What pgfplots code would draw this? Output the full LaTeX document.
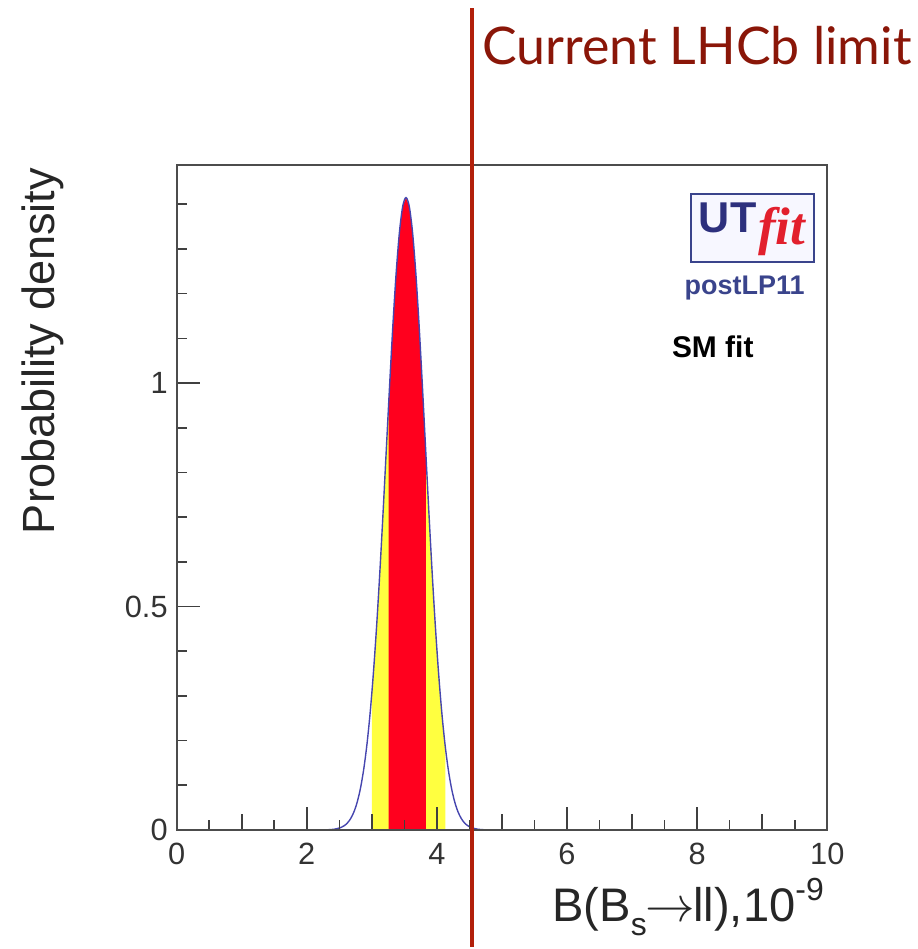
\documentclass[border=0pt]{standalone}
\usepackage{fontspec}
\setmainfont{Liberation Sans}
\newfontfamily\latofont{Lato}
\newfontfamily\serifit{Liberation Serif}
\usepackage{pgfplots}
\pgfplotsset{compat=1.18}
\definecolor{bandyellow}{RGB}{255,255,64}
\definecolor{bandred}{RGB}{255,0,30}
\definecolor{curveblue}{RGB}{70,70,175}
\definecolor{limitred}{RGB}{178,32,10}
\definecolor{limittext}{RGB}{138,22,8}
\definecolor{utblue}{RGB}{45,48,125}
\definecolor{utred}{RGB}{226,32,45}
\definecolor{lpblue}{RGB}{58,68,140}
\begin{document}
\begin{tikzpicture}
\begin{axis}[
  width=326pt, height=333pt, scale only axis,
  xmin=0, xmax=10, ymin=0, ymax=1.487,
  set layers=standard, axis on top, clip=false,
  tick align=inside, tick pos=left,
  xtick={0,2,4,6,8,10}, ytick={0,0.5,1},
  minor xtick={0.5,1.5,2.5,3.5,4.5,5.5,6.5,7.5,8.5,9.5},
  minor ytick={0.1,0.2,0.3,0.4,0.6,0.7,0.8,0.9,1.1,1.2,1.3,1.4},
  extra x ticks={1,3,5,7,9}, extra x tick labels={},
  extra x tick style={major tick length=8pt},
  major tick length=11.5pt, minor tick length=5pt,
  tick style={black!75, line width=0.8pt},
  axis line style={black!70, line width=1pt},
  /pgf/number format/assume math mode=true,
  ticklabel style={font=\fontsize{15.4}{18}\selectfont, text=black!80},
  xticklabel style={yshift=-3pt},
  yticklabel style={xshift=-1pt},
]
% yellow band (95%)
\addplot[draw=none, fill=bandyellow] coordinates {
(3.000,0) (3.000,0.306) (3.025,0.3529) (3.075,0.4595) (3.125,0.5817) (3.175,0.7164)
(3.225,0.8582) (3.275,0.9998) (3.325,1.1330) (3.375,1.2487) (3.425,1.3385) (3.475,1.3955)
(3.525,1.4150) (3.575,1.3955) (3.625,1.3385) (3.675,1.2487) (3.725,1.1330) (3.775,0.9998)
(3.825,0.8582) (3.875,0.7164) (3.925,0.5817) (3.975,0.4595) (4.025,0.3529) (4.075,0.2635)
(4.125,0.1915) (4.130,0.185) (4.130,0)} \closedcycle;
% red band (68%)
\addplot[draw=none, fill=bandred] coordinates {
(3.260,0) (3.260,0.958) (3.275,0.9998) (3.325,1.1330) (3.375,1.2487) (3.425,1.3385) (3.475,1.3955)
(3.525,1.4150) (3.575,1.3955) (3.625,1.3385) (3.675,1.2487) (3.725,1.1330) (3.775,0.9998)
(3.825,0.8582) (3.830,0.844) (3.830,0)} \closedcycle;
% p.d.f. curve
\addplot[curveblue, line width=0.7pt, smooth] coordinates {
(2.200,0) (2.325,0.0005) (2.425,0.0017) (2.525,0.0055) (2.575,0.0094) (2.625,0.0157)
(2.675,0.0256) (2.725,0.0404) (2.775,0.0622) (2.825,0.0930) (2.875,0.1353) (2.925,0.1915)
(2.975,0.2635) (3.025,0.3529) (3.075,0.4595) (3.125,0.5817) (3.175,0.7164) (3.225,0.8582)
(3.275,0.9998) (3.325,1.1330) (3.375,1.2487) (3.425,1.3385) (3.475,1.3955) (3.525,1.4150)
(3.575,1.3955) (3.625,1.3385) (3.675,1.2487) (3.725,1.1330) (3.775,0.9998) (3.825,0.8582)
(3.875,0.7164) (3.925,0.5817) (3.975,0.4595) (4.025,0.3529) (4.075,0.2635) (4.125,0.1915)
(4.175,0.1353) (4.225,0.0930) (4.275,0.0622) (4.325,0.0404) (4.375,0.0256) (4.425,0.0157)
(4.475,0.0094) (4.525,0.0055) (4.625,0.0017) (4.725,0.0005) (4.850,0)};
% current LHCb limit
\addplot[limitred, line width=2.4pt, on layer=axis foreground] coordinates {(4.54,-0.261) (4.54,1.839)};
\node[anchor=base west, text=limittext, inner sep=0pt, font=\latofont\fontsize{26}{30}\selectfont]
  at (axis cs:4.69,1.712) {Current LHCb limit};
% axis titles
\node[rotate=90, anchor=base east, inner sep=0pt, text=black!85, font=\fontsize{22.6}{26}\selectfont]
  at (axis cs:-1.871,1.482) {Probability density};
\node[anchor=base east, inner sep=0pt, text=black!85, font=\fontsize{23.6}{28}\selectfont]
  at (axis cs:9.954,-0.205) {B(B\raisebox{-0.55ex}{\fontsize{16}{18}\selectfont s}\kern-0.5pt{\fontsize{26}{28}\selectfont$\rightarrow$}\kern-1pt ll),10\raisebox{0.85ex}{\fontsize{16}{18}\selectfont -9}};
% UTfit logo
\draw[lpblue, line width=1pt, fill=blue!3] (axis cs:7.90,1.270) rectangle (axis cs:9.80,1.422);
\node[anchor=base west, inner sep=0pt, text=utblue, font=\bfseries\fontsize{21.6}{26}\selectfont]
  at (axis cs:8.021,1.337) {UT};
\node[anchor=base west, inner sep=0pt, text=utred, font=\serifit\bfseries\itshape\fontsize{26.5}{30}\selectfont]
  at (axis cs:8.93,1.310) {fit};
\node[anchor=center, inner sep=0pt, text=lpblue, font=\bfseries\fontsize{13.5}{16}\selectfont]
  at (axis cs:8.73,1.212) {postLP11};
\node[anchor=center, inner sep=0pt, text=black, font=\bfseries\fontsize{15}{18}\selectfont]
  at (axis cs:8.24,1.080) {SM fit};
% page extent
\path (axis cs:-2.715,-0.261) rectangle (axis cs:11.38,1.857);
\end{axis}
\end{tikzpicture}
\end{document}
